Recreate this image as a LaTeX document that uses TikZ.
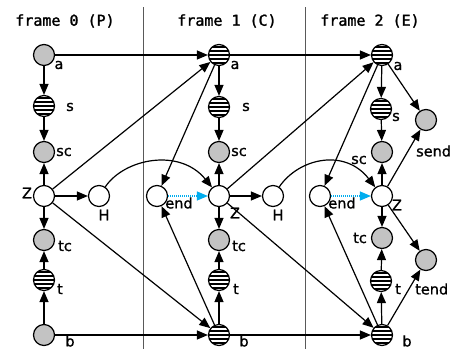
\documentclass[tikz,border=0pt]{standalone}
\usepackage{fontspec}
\usetikzlibrary{arrows.meta}
\newfontfamily\titlefont{DejaVu Sans Mono}[FakeBold=1.5]
\newfontfamily\labfont{DejaVu Sans}[FakeBold=1]
\definecolor{nodegray}{RGB}{195,195,195}
\tikzset{
  basenode/.style={circle, draw=black, line width=1.2pt, minimum size=21pt, inner sep=0pt},
  plain/.style={basenode, fill=white},
  grey/.style={basenode, fill=nodegray},
  striped/.style={basenode, fill=white, path picture={
      \foreach \yy in {-8,-4,0,4,8}
        \draw[line width=1.7pt] ([yshift=\yy pt]path picture bounding box.west) -- ([yshift=\yy pt]path picture bounding box.east);
    }},
  edge/.style={line width=1.2pt, -{Triangle[length=11pt,width=9pt]}},
  cyanedge/.style={cyan, line width=1.2pt, dash pattern=on 1pt off 1pt, -{Triangle[length=11pt,width=9pt,fill=cyan]}},
  lab/.style={font=\labfont\fontsize{14.5}{15}\selectfont, inner sep=0pt},
  ttl/.style={font=\titlefont\fontsize{15}{16}\selectfont, inner sep=0pt},
  sep/.style={line width=0.8pt, gray!70!black}
}
\begin{document}
\begin{tikzpicture}[x=1pt,y=-1pt]
\useasboundingbox (0,0) rectangle (450,349);
\clip (0,0) rectangle (450,349);
\fill[white] (0,0) rectangle (450,349);
% separators
\coordinate (s1t) at (143,7); \coordinate (s1b) at (143,349);
\coordinate (s2t) at (305,7); \coordinate (s2b) at (305,349);
\draw[sep] (s1t) -- (s1b);
\draw[sep] (s2t) -- (s2b);
% titles
\node[ttl] (t0) at (65,21) {frame 0 (P)};
\node[ttl] (t1) at (227,21) {frame 1 (C)};
\node[ttl] (t2) at (370,21) {frame 2 (E)};
% frame 0
\node[grey] (a0) at (44,55) {};
\node[striped] (s0) at (44,106) {};
\node[grey] (sc0) at (44,152) {};
\node[plain] (Z0) at (44,196) {};
\node[plain] (H0) at (99,196) {};
\node[grey] (tc0) at (44,240) {};
\node[striped] (tt0) at (44,280) {};
\node[grey] (b0) at (44,335) {};
% frame 1
\node[striped] (a1) at (219,55) {};
\node[striped] (s1) at (219,107) {};
\node[grey] (sc1) at (219,152) {};
\node[plain] (Z1) at (219,196) {};
\node[plain] (e1) at (157,196) {};
\node[plain] (H1) at (273,196) {};
\node[grey] (tc1) at (219,240) {};
\node[striped] (tt1) at (219,280) {};
\node[striped] (b1) at (219,335) {};
% frame 2
\node[striped] (a2) at (382,55) {};
\node[striped] (s2) at (381,109) {};
\node[grey] (sc2) at (382,152) {};
\node[plain] (Z2) at (382,196) {};
\node[plain] (e2) at (320,196) {};
\node[grey] (send) at (426,120) {};
\node[grey] (tend) at (426,260) {};
\node[grey] (tc2) at (382,238) {};
\node[striped] (tt2) at (381,281) {};
\node[striped] (b2) at (382,335) {};
% labels
\node[lab] (la0) at (59,65) {a};
\node[lab] (ls0) at (70,107) {s};
\node[lab] (lsc0) at (64,152) {sc};
\node[lab] (lZ0) at (27,193) {Z};
\node[lab] (lH0) at (104,215) {H};
\node[lab] (ltc0) at (65,246) {tc};
\node[lab] (lt0) at (60,289) {t};
\node[lab] (lb0) at (70,341) {b};
\node[lab] (la1) at (235,65) {a};
\node[lab] (ls1) at (246,107) {s};
\node[lab] (lsc1) at (239,152) {sc};
\node[lab] (lZ1) at (235,213) {Z};
\node[lab] (le1) at (179,203) {end};
\node[lab] (lH1) at (278,215) {H};
\node[lab] (ltc1) at (239,246) {tc};
\node[lab] (lt1) at (236,289) {t};
\node[lab] (lb1) at (244,341) {b};
\node[lab] (la2) at (398,66) {a};
\node[lab] (ls2) at (396,117) {s};
\node[lab] (lsc2) at (359,160) {sc};
\node[lab] (lZ2) at (397,205) {Z};
\node[lab] (le2) at (342,203) {end};
\node[lab, anchor=west] (lsend) at (416,151) {send};
\node[lab, anchor=west] (ltend) at (415,289) {tend};
\node[lab] (ltc2) at (360,238) {tc};
\node[lab] (lt2) at (398,289) {t};
\node[lab] (lb2) at (407,341) {b};
% frame 0 edges
\draw[edge] (a0) -- (s0);
\draw[edge] (s0) -- (sc0);
\draw[edge] (Z0) -- (sc0);
\draw[edge] (Z0) -- (tc0);
\draw[edge] (tt0) -- (tc0);
\draw[edge] (b0) -- (tt0);
\draw[edge] (Z0) -- (H0);
\draw[edge] (a0) -- (a1);
\draw[edge] (b0) -- (b1);
\draw[edge] (Z0) -- (a1);
\draw[edge] (Z0) -- (b1);
\draw[edge] (H0) .. controls (125,158) and (180,148) .. (Z1);
% frame 1 edges
\draw[edge] (a1) -- (s1);
\draw[edge] (s1) -- (sc1);
\draw[edge] (Z1) -- (sc1);
\draw[edge] (Z1) -- (tc1);
\draw[edge] (tt1) -- (tc1);
\draw[edge] (b1) -- (tt1);
\draw[edge] (Z1) -- (H1);
\draw[edge] (a1) -- (e1);
\draw[edge] (b1) -- (e1);
\draw[cyanedge] (e1) -- (Z1);
\draw[edge] (a1) -- (a2);
\draw[edge] (b1) -- (b2);
\draw[edge] (Z1) -- (a2);
\draw[edge] (Z1) -- (b2);
\draw[edge] (H1) .. controls (299,158) and (345,148) .. (Z2);
% frame 2 edges
\draw[edge] (a2) -- (s2);
\draw[edge] (s2) -- (sc2);
\draw[edge] (Z2) -- (sc2);
\draw[edge] (Z2) -- (tc2);
\draw[edge] (tt2) -- (tc2);
\draw[edge] (b2) -- (tt2);
\draw[edge] (a2) -- (e2);
\draw[edge] (b2) -- (e2);
\draw[cyanedge] (e2) -- (Z2);
\draw[edge] (a2) -- (send);
\draw[edge] (Z2) -- (send);
\draw[edge] (Z2) -- (tend);
\draw[edge] (b2) -- (tend);
\end{tikzpicture}
\end{document}
